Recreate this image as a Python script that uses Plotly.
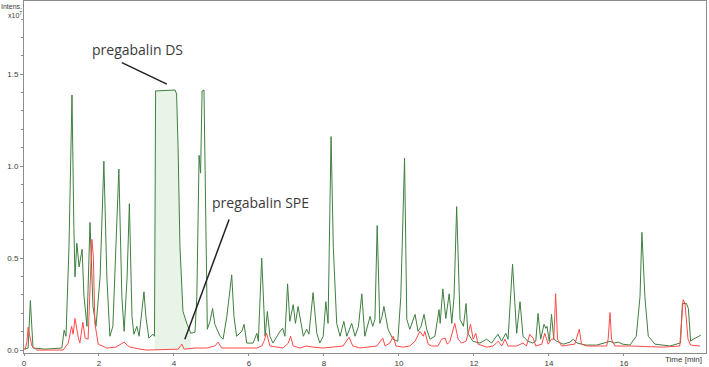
import plotly.graph_objects as go

# ---- data (time in min, intensity in 1e7 units) ----
green_t = [0.00, 0.11, 0.17, 0.24, 0.56, 1.01, 1.07, 1.12, 1.20, 1.28, 1.33, 1.36, 1.41, 1.47, 1.55, 1.60,
           1.68, 1.76, 1.84, 1.92, 2.03, 2.13, 2.21, 2.29, 2.37, 2.45, 2.53, 2.61, 2.67, 2.75, 2.81, 2.88,
           2.93, 3.01, 3.07, 3.20, 3.25, 3.33, 3.44, 3.48, 3.51, 4.03, 4.07, 4.11, 4.16, 4.24, 4.35, 4.45,
           4.56, 4.61, 4.67, 4.71, 4.75, 4.80, 4.85, 4.89, 4.96, 5.03, 5.09, 5.23, 5.31, 5.41, 5.54, 5.60,
           5.67, 5.81, 5.87, 5.94, 6.11, 6.21, 6.25, 6.34, 6.43, 6.49, 6.56, 6.64, 6.83, 6.90, 6.96, 7.03,
           7.09, 7.18, 7.24, 7.31, 7.39, 7.45, 7.54, 7.60, 7.71, 7.81, 7.89, 7.98, 8.05, 8.11, 8.19, 8.25,
           8.34, 8.43, 8.53, 8.61, 8.74, 8.83, 8.92, 9.01, 9.09, 9.23, 9.30, 9.36, 9.42, 9.49, 9.55, 9.60,
           9.71, 9.84, 9.97, 10.05, 10.15, 10.21, 10.29, 10.43, 10.51, 10.59, 10.67, 10.74, 10.83, 10.96,
           11.07, 11.10, 11.17, 11.25, 11.34, 11.41, 11.47, 11.54, 11.63, 11.72, 11.79, 11.84, 11.97, 12.16,
           12.34, 12.47, 12.64, 12.74, 12.85, 12.91, 13.03, 13.14, 13.23, 13.31, 13.44, 13.57, 13.65, 13.71,
           13.78, 13.87, 13.92, 13.95, 14.01, 14.07, 14.13, 14.21, 14.38, 14.56, 14.65, 14.75, 14.99, 15.27,
           15.47, 15.63, 15.73, 15.85, 15.97, 16.16, 16.33, 16.43, 16.48, 16.56, 16.65, 16.83, 17.23, 17.41,
           17.51, 17.56, 17.67, 17.72, 17.78, 17.85, 17.95, 18.05]
green_i = [0.005, 0.011, 0.269, 0.011, 0.005, 0.011, 0.108, 0.075, 0.559, 1.387, 0.667, 0.398, 0.581, 0.452, 0.548, 0.290,
           0.129, 0.694, 0.237, 0.129, 0.398, 1.027, 0.398, 0.075, 0.129, 0.559, 0.984, 0.290, 0.102, 0.398, 0.796, 0.183,
           0.086, 0.129, 0.075, 0.317, 0.183, 0.065, 0.086, 0.075, 1.409, 1.414, 1.392, 1.097, 0.559, 0.210, 0.140, 0.091,
           0.097, 0.290, 1.059, 0.962, 1.409, 1.414, 0.559, 0.113, 0.156, 0.226, 0.140, 0.075, 0.059, 0.183, 0.409, 0.183,
           0.075, 0.102, 0.140, 0.038, 0.038, 0.091, 0.048, 0.500, 0.075, 0.210, 0.075, 0.038, 0.102, 0.118, 0.075, 0.360,
           0.156, 0.247, 0.145, 0.237, 0.145, 0.075, 0.113, 0.086, 0.312, 0.091, 0.038, 0.075, 0.263, 0.145, 1.161, 0.559,
           0.145, 0.075, 0.156, 0.075, 0.145, 0.075, 0.129, 0.306, 0.075, 0.183, 0.129, 0.167, 0.677, 0.145, 0.183, 0.237,
           0.113, 0.059, 0.048, 0.290, 1.043, 0.167, 0.113, 0.194, 0.102, 0.129, 0.194, 0.113, 0.059, 0.075,
           0.220, 0.145, 0.333, 0.172, 0.306, 0.145, 0.290, 0.780, 0.167, 0.129, 0.253, 0.091, 0.048, 0.038,
           0.059, 0.038, 0.086, 0.048, 0.091, 0.059, 0.468, 0.091, 0.263, 0.075, 0.048, 0.038, 0.048, 0.199,
           0.059, 0.140, 0.118, 0.129, 0.048, 0.194, 0.059, 0.048, 0.032, 0.043, 0.059, 0.038, 0.027, 0.027,
           0.038, 0.048, 0.038, 0.043, 0.032, 0.027, 0.075, 0.290, 0.640, 0.290, 0.075, 0.032, 0.022, 0.032,
           0.039, 0.253, 0.253, 0.226, 0.048, 0.059, 0.070, 0.081]

red_t = [0.03, 0.08, 0.11, 0.16, 0.21, 0.34, 1.04, 1.18, 1.27, 1.31, 1.36, 1.45, 1.49, 1.57, 1.63, 1.71,
         1.76, 1.81, 1.85, 1.89, 1.98, 2.21, 2.45, 2.59, 2.67, 2.75, 2.83, 3.09, 3.27, 4.11, 4.21, 4.27,
         4.56, 4.87, 5.09, 5.18, 5.27, 5.76, 6.21, 6.34, 6.40, 6.47, 6.56, 6.91, 7.05, 7.11, 7.18, 7.36,
         7.52, 7.71, 7.98, 8.51, 8.59, 8.67, 8.77, 8.96, 9.41, 9.57, 9.63, 9.76, 9.85, 9.92, 10.11, 10.29,
         10.43, 10.56, 10.65, 10.69, 10.78, 10.87, 11.04, 11.14, 11.23, 11.29, 11.36, 11.49, 11.58, 11.67,
         11.79, 11.91, 11.98, 12.05, 12.11, 12.34, 12.51, 12.65, 12.74, 12.83, 12.91, 13.14, 13.31, 13.40,
         13.49, 13.58, 13.65, 13.81, 13.89, 13.98, 14.07, 14.13, 14.18, 14.23, 14.34, 14.69, 14.81, 14.87,
         15.01, 15.54, 15.58, 15.63, 15.67, 15.76, 16.16, 17.05, 17.49, 17.54, 17.58, 17.63, 17.71, 17.78,
         18.03]
red_i = [0.000, 0.048, 0.124, 0.065, 0.022, 0.000, 0.000, 0.038, 0.129, 0.086, 0.172, 0.065, 0.038, 0.151, 0.065, 0.059,
         0.290, 0.602, 0.505, 0.145, 0.032, 0.011, 0.016, 0.032, 0.043, 0.027, 0.016, 0.005, 0.000, 0.005, 0.032, 0.005,
         0.011, 0.011, 0.022, 0.043, 0.011, 0.011, 0.011, 0.022, 0.048, 0.091, 0.022, 0.011, 0.038, 0.075, 0.022, 0.011,
         0.022, 0.016, 0.011, 0.022, 0.043, 0.070, 0.022, 0.011, 0.022, 0.065, 0.022, 0.038, 0.075, 0.022, 0.016, 0.022,
         0.048, 0.102, 0.075, 0.102, 0.032, 0.022, 0.022, 0.059, 0.065, 0.032, 0.048, 0.145, 0.059, 0.038,
         0.048, 0.140, 0.059, 0.091, 0.032, 0.016, 0.022, 0.048, 0.022, 0.059, 0.022, 0.022, 0.038, 0.022,
         0.086, 0.065, 0.022, 0.032, 0.091, 0.032, 0.059, 0.059, 0.306, 0.059, 0.022, 0.032, 0.113, 0.032,
         0.022, 0.022, 0.059, 0.204, 0.059, 0.022, 0.022, 0.016, 0.022, 0.199, 0.274, 0.253, 0.059, 0.027,
         0.022]

ds_fill_start, ds_fill_end = 3.48, 4.45
x_ticks = [0, 2, 4, 6, 8, 10, 12, 14, 16]
y_ticks = [0.0, 0.5, 1.0, 1.5]
y_tick_text = ["0.0", "0.5", "1.0", "1.5"]

fill_t = [t for t in green_t if ds_fill_start <= t <= ds_fill_end]
fill_i = [v for t, v in zip(green_t, green_i) if ds_fill_start <= t <= ds_fill_end]

GREEN = "#3f7f3f"
RED = "#ff4a4a"
TXT = "#3a3a3a"
SMALL = "Liberation Sans"

fig = go.Figure()
fig.add_trace(go.Scatter(x=fill_t, y=fill_i, mode="lines", line=dict(width=0, color=GREEN),
                         fill="tozeroy", fillcolor="rgba(200,228,200,0.4)", hoverinfo="skip"))
fig.add_trace(go.Scatter(x=green_t, y=green_i, mode="lines", line=dict(color=GREEN, width=1)))
fig.add_trace(go.Scatter(x=red_t, y=red_i, mode="lines", line=dict(color=RED, width=1)))

# annotation lines
fig.add_shape(type="line", x0=2.61, y0=1.563, x1=3.81, y1=1.446, line=dict(color="#222", width=1.5))
fig.add_shape(type="line", x0=5.47, y0=0.710, x1=4.29, y1=0.059, line=dict(color="#222", width=1.5))

fig.add_annotation(x=3.04, y=1.634, text="pregabalin DS", showarrow=False,
                   font=dict(size=14, color=TXT, family="Open Sans"))
fig.add_annotation(x=6.32, y=0.801, text="pregabalin SPE", showarrow=False,
                   font=dict(size=14, color=TXT, family="Open Sans"))

fig.add_annotation(xref="paper", yref="paper", x=0, y=1, xanchor="right", yanchor="top",
                   xshift=0, yshift=0, text="Intens.<br>x10<sup>7</sup>", showarrow=False, align="right",
                   font=dict(size=7, color=TXT, family=SMALL))
fig.add_annotation(xref="paper", yref="paper", x=1, y=0, xanchor="right", yanchor="top",
                   xshift=-2, yshift=0, text="Time [min]", showarrow=False,
                   font=dict(size=8, color=TXT, family=SMALL))

fig.update_layout(
    width=709, height=367,
    margin=dict(l=24, r=3, t=1, b=14),
    paper_bgcolor="white", plot_bgcolor="white",
    showlegend=False,
    font=dict(family=SMALL, size=8, color=TXT),
)
fig.update_xaxes(range=[0, 18.19], tickvals=x_ticks, showgrid=False, zeroline=False, automargin=False,
                 showline=True, linecolor="#8c8c8c", linewidth=1, mirror=True,
                 ticks="outside", ticklen=2, tickcolor="#8c8c8c",
                 tickfont=dict(size=8, color=TXT, family=SMALL))
fig.update_yaxes(range=[-0.016, 1.898], tickvals=y_ticks, ticktext=y_tick_text, showgrid=False, zeroline=False,
                 automargin=False,
                 showline=True, linecolor="#8c8c8c", linewidth=1, mirror=True,
                 ticks="outside", ticklen=3, tickcolor="#8c8c8c", tickfont=dict(size=8, color=TXT, family=SMALL),
                 minor=dict(dtick=0.1, ticks="outside", ticklen=2, tickcolor="#8c8c8c"))

fig.write_html("out.html")
